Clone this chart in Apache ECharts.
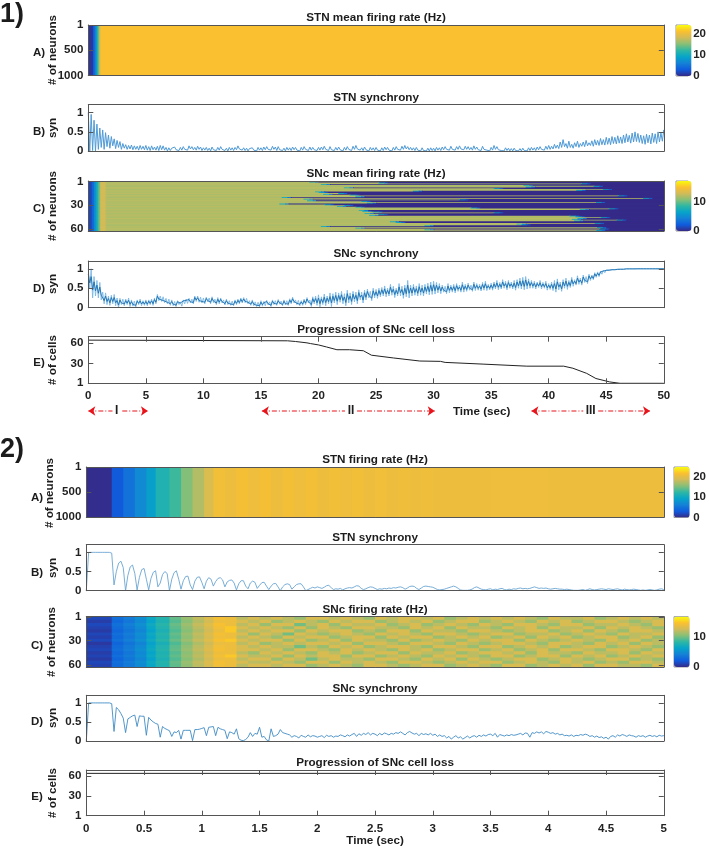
<!DOCTYPE html>
<html>
<head>
<meta charset="utf-8">
<title>STN and SNc activity</title>
<script src="https://cdn.jsdelivr.net/npm/echarts@6/dist/echarts.min.js"></script>
<style>
  body { margin: 0; background: #fff; }
  #main { width: 709px; height: 850px; }
</style>
</head>
<body>
<div id="main"></div>
<script>
// ---- data ----
var neuronTicks = [1, 500, 1000]
var sncRowTicks = [1, 30, 60]
var synTicks = [0, 0.5, 1]
var cellTicks = [1, 30, 60]

// part 1, panel A: all neurons ramp together in the first second
var stn1Edges = [0, 0.4, 0.55, 0.7, 0.8, 0.9, 1, 1.1, 50]
var stn1Rates = [0.6, 3, 6, 10, 13, 17, 20, 21.35]

// part 1, panel B: upper / lower edge of the oscillating trace, every 0.25 s
var syn1bHi = [1,.95,.8,.7,.6,.55,.48,.42,.38,.32,.28,.25,.2,.17,.15,.16,.14,.13,.15,.13,
  .15,.12,.14,.11,.13,.15,.14,.1,.09,.08,.11,.09,.1,.12,.1,.14,.12,.1,.13,.11,
  .09,.1,.08,.11,.09,.1,.12,.09,.08,.1,.09,.1,.14,.11,.09,.08,.07,.09,.08,.1,
  .09,.11,.12,.1,.13,.11,.12,.09,.08,.1,.09,.11,.1,.08,.1,.12,.09,.11,.1,.09,
  .1,.11,.13,.1,.12,.09,.1,.11,.08,.1,.12,.09,.13,.15,.1,.09,.11,.08,.1,.09,
  .1,.08,.09,.11,.1,.08,.1,.12,.1,.13,.15,.12,.1,.09,.1,.08,.09,.07,.08,.09,
  .08,.1,.09,.11,.12,.1,.13,.1,.12,.14,.11,.13,.12,.1,.14,.11,.09,.13,.1,.08,
  .1,.15,.12,.09,.07,.09,.08,.07,.08,.06,.07,.08,.07,.09,.1,.09,.11,.12,.1,.13,
  .15,.13,.18,.16,.24,.3,.2,.26,.18,.22,.26,.2,.24,.28,.22,.27,.3,.28,.33,.3,
  .36,.34,.38,.36,.4,.37,.42,.45,.41,.47,.5,.46,.42,.4,.44,.42,.47,.45,.5,.47,.55]
var syn1bLo = [0,.02,0,.05,.1,.05,.12,.08,.14,.07,.1,.05,.08,.05,.06,.04,.05,.03,.05,.04,
  .03,.02,.04,.03,.02,.04,.03,.01,.02,.03,.04,.02,.03,.05,.03,.06,.04,.03,.05,.02,
  .03,.02,.01,.04,.02,.03,.05,.02,.01,.03,.02,.04,.06,.03,.02,.01,.02,.03,.01,.03,
  .02,.04,.05,.03,.05,.02,.04,.02,.01,.03,.02,.04,.03,.01,.03,.05,.02,.03,.04,.02,
  .03,.04,.05,.02,.04,.02,.03,.04,.01,.03,.05,.02,.05,.06,.03,.02,.04,.01,.03,.02,
  .03,.01,.02,.04,.03,.01,.03,.05,.03,.05,.06,.04,.03,.02,.03,.01,.02,.01,.01,.02,
  .01,.03,.02,.04,.05,.03,.05,.03,.05,.06,.04,.05,.04,.03,.05,.04,.02,.05,.03,.01,
  .03,.05,.04,.02,.01,.02,.01,.01,.02,.01,.01,.02,.01,.02,.03,.02,.04,.05,.03,.05,
  .05,.06,.08,.07,.1,.12,.08,.1,.08,.12,.1,.13,.12,.14,.15,.13,.16,.15,.17,.16,
  .18,.17,.2,.19,.21,.2,.22,.24,.21,.24,.25,.23,.2,.18,.22,.19,.23,.2,.24,.26,.3]

// part 1, panel C: colour ramp, per-row plateau rate, and the time each cell dies (s)
var snc1RampEdges = [0, 0.3, 0.5, 0.7, 0.85, 1, 1.5]
var snc1RampRates = [1.2, 3, 5.5, 8, 10, 13]
var snc1Plateau = [12,11.7,12.3,11.8,12.2,12,11.6,12.3,11.9,12.2,11.7,12.1,12.3,11.8,12,12.2,11.7,12.1,
  12.3,11.9,11.7,12.2,12,11.8,12.3,11.9,12.1,11.7,12.2,12,11.8,12.3,12.1,11.7,12,12.2,11.8,12.1,11.9,12.3,
  11.7,12,12.2,11.9,12.1,11.8,12.3,12,11.7,12.2,11.9,12.1,12.3,11.8,12,11.7,12.2,11.9,12.1,12.3,11.8,12]
var snc1Death = [27,20,26,43.6,21,38.6,44.7,38.8,23,36,45.5,43.2,29,20.5,20.8,22.5,21.2,23.5,46.8,24,17.6,49,
  19.5,33,19.8,24.5,44.9,25,17.4,21.3,23,22.4,24,34,46,43.5,24.3,24.6,25.5,36,24.8,26,25.2,42.6,43.1,45.3,
  43.3,42.8,46.7,43,27,27.5,44.8,38,38.4,30,21,45,24,45.2,30,44.9]

// part 1, panel D: upper / lower edge every 0.25 s
var syn1dHi = [1,1,.8,.7,.65,.4,.38,.3,.32,.34,.25,.24,.22,.22,.25,.2,.17,.2,.22,.18,
  .2,.2,.22,.25,.34,.3,.28,.24,.22,.2,.16,.18,.15,.2,.22,.24,.22,.3,.3,.27,
  .25,.27,.25,.28,.22,.26,.25,.2,.22,.18,.17,.2,.22,.25,.26,.24,.18,.2,.15,.14,
  .18,.16,.19,.15,.2,.18,.21,.17,.2,.18,.23,.27,.2,.19,.18,.22,.26,.2,.28,.3,
  .33,.28,.35,.3,.38,.36,.4,.38,.42,.36,.45,.38,.42,.4,.46,.4,.45,.48,.42,.5,
  .47,.5,.52,.56,.5,.6,.55,.5,.62,.55,.58,.7,.58,.6,.56,.62,.58,.6,.63,.66,
  .68,.65,.62,.58,.55,.62,.58,.6,.62,.58,.66,.6,.63,.58,.66,.62,.6,.65,.68,.6,
  .63,.66,.7,.65,.72,.68,.7,.66,.7,.72,.76,.78,.8,.74,.7,.68,.66,.7,.65,.68,
  .62,.66,.7,.74,.66,.72,.76,.7,.78,.72,.82,.76,.84,.8,.86,.84,.9,.92,.94,.96,
  .97,.97,.98,.98,.99,.99,.99,1,1,1,1,1,1,1,1,1,1,1,1,1,1]
var syn1dLo = [.5,.25,.3,.25,.2,.1,.08,.06,.1,.05,0,.08,.05,.08,.03,.04,.02,.08,.05,.06,
  .05,.08,.06,.1,.18,.16,.13,.1,.06,.05,.03,.08,.04,.1,.11,.12,.1,.16,.14,.12,
  .1,.15,.1,.13,.08,.1,.12,.07,.08,.06,.05,.08,.1,.12,.13,.1,.06,.05,.03,.02,
  .04,.05,.07,.03,.08,.06,.09,.05,.07,.06,.1,.12,.08,.05,.06,.08,.12,.03,.1,.06,
  .02,.08,.05,.1,.03,.12,.08,.14,.1,.05,.12,.08,.15,.1,.2,.12,.2,.25,.18,.25,
  .24,.28,.3,.28,.3,.32,.26,.3,.3,.24,.28,.25,.3,.32,.3,.32,.3,.35,.33,.34,
  .35,.38,.36,.4,.36,.38,.4,.38,.42,.4,.4,.42,.45,.42,.44,.45,.43,.45,.44,.46,
  .45,.48,.46,.48,.5,.46,.5,.48,.45,.5,.48,.46,.48,.5,.5,.48,.52,.48,.5,.45,
  .47,.44,.4,.46,.42,.5,.47,.52,.55,.58,.6,.58,.65,.62,.7,.72,.78,.8,.86,.9,
  .93,.94,.96,.96,.97,.98,.98,.99,.99,.99,.99,1,1,1,1,1,1,1,1,1,1]

// part 1, panel E: surviving cells
var cells1Times = [0,17.3,18,19,19.3,20,20.7,21.6,22.7,23.9,24.6,26.5,28.8,30.6,31,34.3,38.1,41.3,42.1,43.3,44.1,45.3,46.2,50]
var cells1Count = [64,63,62,60,59,57,54,50,50,48.5,42,38,33.5,33,31.5,29,26,26,23,15.5,8,3,1,1]

// arrows under part 1 (s)
var arrowsLeft = [[0, 2.1], [15.08, 22.3], [38.5, 43]]
var arrowsRight = [[2.95, 5.18], [23.35, 30.1], [44.3, 48.8]]

// part 2, panel A
var stn2Edges = [0,.22,.32,.42,.52,.6,.72,.82,.92,1.02,1.1,1.2,1.3,1.4,1.5,1.6,1.7,1.8,1.9,2,2.1,2.2,2.3,2.4,2.5,2.6,2.7,2.8,2.9,3,3.5,4,5]
var stn2Rates = [.2,3,5,7,9,11.5,13,15.5,17.5,19.5,21.2,20.8,21.4,20.9,21.4,20.8,21.3,20.9,21.3,20.8,21.2,20.9,21.2,20.8,21.1,20.8,21,20.8,21,20.8,20.9,20.8]

// part 2, panel B, every 0.02 s
var syn2b = [0,1,1,1,1,1,1,1,1,1,1,.98,.15,.5,.72,.77,.6,0,.4,.62,.67,.45,.02,.35,.55,.58,.3,.02,.32,.48,
  .52,.1,.2,.42,.5,.45,0,.3,.47,.52,.3,.04,.26,.37,.38,.15,.03,.25,.35,.36,.22,.05,.25,.34,.3,.12,.24,.32,.34,.28,
  .1,.23,.27,.28,.2,.02,.18,.26,.26,.12,.05,.2,.25,.22,.06,.14,.21,.22,.12,.03,.12,.18,.19,.1,0,.1,.16,.18,.16,.04,
  .1,.16,.18,.18,.1,0,.03,.06,.09,.07,.1,.08,.06,.09,.13,.14,.08,.03,.05,.04,.06,.02,.05,.07,.08,.07,.1,.13,.12,.06,
  .03,.05,.08,.1,.09,.06,.03,.05,.04,.06,.05,.07,.06,.08,.07,.09,.1,.08,.04,.07,.11,.12,.11,.06,.03,.07,.11,.12,.11,.1,
  .09,.06,.03,.02,.03,.04,.06,.08,.1,.12,.1,.06,.02,.01,.01,.01,.02,.04,.08,.1,.07,.04,.03,.02,.04,.05,.02,.04,.03,.05,
  .06,.03,.02,.04,.03,.05,.04,.06,.07,.05,.06,.05,.06,.08,.1,.08,.06,.07,.06,.07,.05,.04,.05,.06,.05,.04,.04,.03,.04,.03,
  .02,.01,.01,.01,.02,.03,.01,.03,.05,.03,.02,.03,.04,.05,.04,.03,.05,.04,.03,.04,.05,.03,.02,.04,.03,.02,.03,.04,.03,.02,
  .01,.02,.01,.02,.03,.02,.01,.02,.04,.05,.03]

// part 2, panel C: ramp columns, then 0.1 s patches per block of rows
var snc2RampEdges = [0,.22,.32,.42,.52,.6,.72,.82,.92,1.02,1.1,1.2]
var snc2RampRates = [1,3,3.8,4.8,6.5,7.8,9.5,10.8,12,13,14.2]
var snc2RowShift = [.2,-.2,.3,0,-.3,.2,-.1,.3,-.4,0,.2,-.2,.1,-.3,.2,0]
var snc2Patches = [
  [14,12,13,12,13,12,11,13,13,12,13,12,11,13,12,13,13,12,13,11,12,13,12,13,12,13,12,11,13,12,12,13,11,12,13,12,13,12],
  [14,13,12,13,11,12,13,12,11,13,12,13,13,11,12,13,12,13,11,12,13,13,11,12,13,12,11,13,12,13,11,12,13,13,12,11,12,13],
  [14,12,13,11,13,13,10,12,13,11,13,12,12,13,11,12,13,11,12,13,12,11,13,12,11,13,13,12,11,13,13,11,12,12,13,12,11,13],
  [15,13,12,13,12,11,13,11,13,12,11,13,13,12,12,11,13,12,13,11,13,12,12,11,13,12,13,11,13,12,12,13,11,13,12,13,12,11],
  [15,12,13,12,13,13,11,13,12,13,13,11,12,11,13,13,11,13,12,12,11,13,13,12,11,12,13,13,11,12,13,11,13,12,11,13,13,12],
  [14,13,11,13,12,10,13,12,11,12,13,12,11,13,12,13,12,11,13,13,12,11,12,13,13,11,12,12,13,11,12,13,12,11,13,12,12,13],
  [14,12,13,12,11,13,12,13,13,11,12,13,13,11,13,12,13,13,11,12,13,12,13,11,12,13,11,13,12,13,11,12,13,13,11,12,13,11],
  [15,13,12,13,13,11,13,11,12,13,11,13,12,12,11,13,11,12,13,12,11,13,12,13,13,11,13,12,11,12,13,12,11,13,12,13,11,12],
  [14,12,13,11,12,13,12,13,13,12,13,11,13,13,12,11,13,13,12,11,13,12,11,12,13,13,12,11,13,13,12,11,13,12,13,11,13,12],
  [14,13,12,13,12,12,10,12,11,13,12,13,11,12,13,13,12,11,13,13,12,11,13,13,11,12,13,12,13,11,12,13,13,11,12,13,12,11],
  [14,13,13,12,13,11,13,13,12,11,13,12,13,12,11,13,12,13,11,12,13,13,11,12,13,11,12,13,11,13,13,12,11,13,13,12,11,13],
  [14,12,11,13,12,13,12,11,13,12,13,11,12,13,13,11,13,12,12,13,11,12,13,13,12,13,11,13,12,12,11,13,12,12,13,11,13,12],
  [15,13,12,12,13,11,13,12,13,13,11,13,13,11,12,13,12,11,13,12,13,12,11,13,13,11,12,13,13,11,13,12,13,11,12,13,12,13],
  [14,12,13,13,11,13,12,10,12,13,12,12,11,13,13,12,11,13,12,13,11,13,12,11,12,13,13,11,12,13,12,11,12,13,13,11,12,11],
  [14,13,12,12,13,12,11,13,13,11,13,12,13,12,11,13,13,12,11,12,13,12,13,13,11,12,13,12,11,13,12,13,11,12,11,13,13,12],
  [14,12,13,13,12,13,13,11,12,13,12,11,13,13,12,11,12,13,13,11,12,13,12,11,13,13,11,12,13,12,13,11,13,13,12,12,11,13]
]

// part 2, panel D, every 0.02 s
var syn2d = [0,1,1,1,1,1,1,1,1,1,1,.98,.25,.88,.82,.72,.6,.22,.58,.62,.66,.68,.38,.66,.65,.65,.15,.62,.55,.5,
  .46,.44,.1,.38,.33,.3,.27,.12,.24,.22,.28,.05,.28,.28,.28,.28,.01,.3,.3,.31,.33,.35,.14,.36,.37,.38,.14,.36,.32,.3,
  .28,.06,.24,.22,.18,.32,.06,.02,.01,.04,.1,.22,.12,.2,.18,.36,.1,.12,.03,0,.32,.12,.14,.18,.3,.22,.2,.18,.16,.1,
  .14,.12,.08,.15,.12,.1,.16,.11,.14,.13,.1,.12,.14,.09,.15,.12,.14,.1,.13,.12,.16,.14,.11,.16,.13,.17,.2,.12,.19,.15,
  .2,.17,.22,.16,.2,.18,.14,.2,.16,.21,.19,.16,.2,.18,.22,.2,.24,.2,.16,.22,.25,.21,.18,.2,.14,.2,.17,.19,.16,.2,
  .15,.18,.12,.16,.12,.14,.08,.12,.05,.1,.14,.08,.11,.05,.09,.13,.08,.12,.14,.1,.15,.12,.16,.13,.17,.18,.14,.2,.1,.17,
  .15,.13,.16,.14,.17,.15,.16,.18,.2,.16,.21,.2,.1,.22,.2,.24,.21,.24,.19,.25,.23,.2,.22,.18,.2,.16,.18,.14,.15,.13,
  .16,.12,.15,.14,.17,.15,.18,.16,.12,.14,.1,.13,.09,.11,.07,.1,.05,.12,.14,.1,.16,.13,.17,.15,.12,.16,.14,.13,.1,.14,.12,
  .14,.1,.13,.15,.12,.14,.11,.15,.13,.14,.12]

// part 2, panel E: no cell is lost
var cells2Times = [0, 5]
var cells2Count = [64, 64]

var parula = ['#352A87','#0F5CDD','#1481D6','#06A4CA','#2EB7A4','#87BF77','#D1BB59','#FBC02F','#F9FB0E']

// ---- layout helpers ----
var fontFamily = '"Liberation Sans", Arial, sans-serif'
var axisColor = '#555'
var labelStyle = {
  color: '#222', fontFamily: fontFamily, fontWeight: 'bold', fontSize: 11.5,
  formatter: function (v) { return String(v) }
}

var grids = [], xAxes = [], yAxes = [], seriesList = [], visualMaps = [], texts = []

function addText(text, x, y, size, rotation) {
  texts.push({
    type: 'text', x: x, y: y, rotation: rotation || 0, silent: true,
    style: {
      text: text, fill: '#1c1c1c', align: 'center', verticalAlign: 'middle',
      font: 'bold ' + size + 'px ' + fontFamily
    }
  })
}

// one boxed MATLAB-style panel: four axis lines, ticks pointing inward
function addPanel(p) {
  var idx = grids.length
  grids.push({ left: p.x, top: p.y, width: p.w, height: p.h })
  function xa(position, labels) {
    return {
      gridIndex: idx, type: 'value', position: position, min: 0, max: p.tMax, z: 4,
      interval: p.xStep || p.tMax,
      axisLine: { show: true, onZero: false, lineStyle: { color: axisColor, width: 1 } },
      axisTick: { show: !!p.xStep, inside: true, length: 5, lineStyle: { color: axisColor } },
      axisLabel: Object.assign({ show: labels, margin: 7 }, labelStyle),
      splitLine: { show: false }
    }
  }
  function ya(position, labels) {
    return {
      gridIndex: idx, type: 'value', position: position, min: p.yMin, max: p.yMax, inverse: !!p.inverse, z: 4,
      axisLine: { show: true, onZero: false, lineStyle: { color: axisColor, width: 1 } },
      axisTick: { show: true, inside: true, length: 5, customValues: p.yTicks, lineStyle: { color: axisColor } },
      axisLabel: Object.assign({ show: labels, margin: 5, customValues: p.yTicks }, labelStyle),
      splitLine: { show: false }
    }
  }
  xAxes.push(xa('bottom', !!p.xStep), xa('top', false))
  yAxes.push(ya('left', true), ya('right', false))
  addText(p.title, p.x + p.w / 2, p.titleY, 11.7)
  addText(p.letter, p.letterX, p.letterY, 11.5)
  addText(p.yName, p.nameX, p.nameY, 11.7, Math.PI / 2)
  return idx
}

function renderCell(params, api) {
  var a = api.coord([api.value(0), api.value(2)])
  var b = api.coord([api.value(1), api.value(3)])
  // one pixel overlap, the next cell paints over it so no seams show
  return {
    type: 'rect', silent: true,
    shape: { x: a[0], y: a[1], width: b[0] - a[0] + 1, height: b[1] - a[1] + 1 },
    style: { fill: api.visual('color') }
  }
}

function addHeat(gridIdx, cells, cbar) {
  seriesList.push({
    type: 'custom', xAxisIndex: gridIdx * 2, yAxisIndex: gridIdx * 2, renderItem: renderCell,
    data: cells, encode: { x: [0, 1], y: [2, 3] }, clip: true, animation: false, silent: true
  })
  visualMaps.push({
    type: 'continuous', seriesIndex: seriesList.length - 1, dimension: 4,
    min: 0, max: cbar.max, calculable: false, hoverLink: false,
    left: cbar.x, top: cbar.y, itemWidth: cbar.w, itemHeight: cbar.h, padding: 0,
    inRange: { color: parula }
  })
  // colour bar tick labels
  grids.push({ left: cbar.x, top: cbar.y, width: cbar.w, height: cbar.h, show: true, borderColor: '#999', borderWidth: 1 })
  xAxes.push({ gridIndex: grids.length - 1, type: 'value', show: false, min: 0, max: 1 }, { gridIndex: grids.length - 1, type: 'value', show: false, min: 0, max: 1 })
  yAxes.push({
    gridIndex: grids.length - 1, type: 'value', position: 'right', min: 0, max: cbar.max,
    axisLine: { show: false }, axisTick: { show: false },
    axisLabel: Object.assign({ margin: 5, customValues: cbar.ticks }, labelStyle),
    splitLine: { show: false }
  }, { gridIndex: grids.length - 1, type: 'value', show: false, min: 0, max: 1 })
}

function addLine(gridIdx, data, color, width) {
  seriesList.push({
    type: 'line', xAxisIndex: gridIdx * 2, yAxisIndex: gridIdx * 2, data: data, showSymbol: false,
    symbol: 'none', sampling: false, animation: false, silent: true, clip: true,
    lineStyle: { color: color, width: width }
  })
}

// ---- building the marks from the arrays ----
function columnCells(edges, rates, r0, r1) {
  return rates.map(function (v, i) { return [edges[i], edges[i + 1], r0, r1, v] })
}

// alternate between the two edges; squeeze pulls the swing toward the trace's centre
function zigzag(hi, lo, dt, squeeze) {
  var out = []
  for (var i = 0; i < hi.length; i++) {
    var inset = (hi[i] - lo[i]) * squeeze
    out.push([i * dt, hi[i] - inset])
    out.push([(i + 0.5) * dt, lo[i] + inset])
  }
  return out
}

function evenTrace(values, dt) {
  return values.map(function (v, i) { return [i * dt, v] })
}

function snc1Cells() {
  var cells = []
  snc1Death.forEach(function (d, r) {
    cells = cells.concat(columnCells(snc1RampEdges, snc1RampRates, r + 0.5, r + 1.5))
    cells.push([1.5, d - 0.8, r + 0.5, r + 1.5, snc1Plateau[r]])
    cells.push([d - 0.8, d - 0.3, r + 0.5, r + 1.5, 7])
    cells.push([d - 0.3, d, r + 0.5, r + 1.5, 3])
    cells.push([d, 50, r + 0.5, r + 1.5, 0])
  })
  return cells
}

function snc2Cells() {
  var cells = []
  var bandRows = 62 / snc2Patches.length
  snc2Patches.forEach(function (row, b) {
    var r0 = 0.5 + b * bandRows, r1 = r0 + bandRows
    snc2RampRates.forEach(function (v, i) {
      cells.push([snc2RampEdges[i], snc2RampEdges[i + 1], r0, r1, v + snc2RowShift[b]])
    })
    row.forEach(function (v, i) {
      cells.push([1.2 + i * 0.1, 1.3 + i * 0.1, r0, r1, v])
    })
  })
  return cells
}

// ---- part 1 ----
var part1 = { x: 88.3, w: 575.5, tMax: 50, letterX: 39 }
var part2 = { x: 86.3, w: 577.5, tMax: 5, letterX: 37 }

var g, order = []
g = addPanel(Object.assign({}, part1, { y: 25, h: 50.5, yMin: 1, yMax: 1000, inverse: true, yTicks: neuronTicks, yName: '# of neurons', nameX: 52.3, nameY: 50, title: 'STN mean firing rate (Hz)', titleY: 18, letter: 'A)', letterY: 53 }))
order.push({ g: g, cells: columnCells(stn1Edges, stn1Rates, 1, 1000), cbar: { x: 676, y: 25, w: 15.5, h: 51, max: 24.4, ticks: [0, 10, 20] } })
var g1b = addPanel(Object.assign({}, part1, { y: 104.7, h: 46.6, yMin: 0, yMax: 1.2, yTicks: synTicks, yName: 'syn', nameX: 52.5, nameY: 128, title: 'STN synchrony', titleY: 98, letter: 'B)', letterY: 132 }))
g = addPanel(Object.assign({}, part1, { y: 181, h: 50, yMin: 0.5, yMax: 62.5, inverse: true, yTicks: sncRowTicks, yName: '# of neurons', nameX: 52.3, nameY: 206, title: 'SNc mean firing rate (Hz)', titleY: 174, letter: 'C)', letterY: 209.3 }))
order.push({ g: g, cells: snc1Cells(), cbar: { x: 676, y: 181, w: 15.5, h: 50, max: 17.2, ticks: [0, 10] } })
var g1d = addPanel(Object.assign({}, part1, { y: 261, h: 46.7, yMin: 0, yMax: 1.2, yTicks: synTicks, yName: 'syn', nameX: 53, nameY: 284, title: 'SNc synchrony', titleY: 254, letter: 'D)', letterY: 289 }))
var g1e = addPanel(Object.assign({}, part1, { y: 336.7, h: 46.6, yMin: 1, yMax: 69, yTicks: cellTicks, xStep: 5, yName: '# of cells', nameX: 53, nameY: 360, title: 'Progression of SNc cell loss', titleY: 330, letter: 'E)', letterY: 363 }))

// ---- part 2 ----
g = addPanel(Object.assign({}, part2, { y: 467, h: 50.3, yMin: 1, yMax: 1000, inverse: true, yTicks: neuronTicks, yName: '# of neurons', nameX: 50, nameY: 493, title: 'STN firing rate (Hz)', titleY: 460, letter: 'A)', letterY: 497.7 }))
order.push({ g: g, cells: columnCells(stn2Edges, stn2Rates, 1, 1000), cbar: { x: 674, y: 467, w: 15.7, h: 50.5, max: 25, ticks: [0, 10, 20] } })
var g2b = addPanel(Object.assign({}, part2, { y: 544.7, h: 46, yMin: 0, yMax: 1.2, yTicks: synTicks, yName: 'syn', nameX: 52.7, nameY: 568, title: 'STN synchrony', titleY: 537.7, letter: 'B)', letterY: 572.7 }))
g = addPanel(Object.assign({}, part2, { y: 616.7, h: 50.3, yMin: 0.5, yMax: 62.5, inverse: true, yTicks: sncRowTicks, yName: '# of neurons', nameX: 52, nameY: 642, title: 'SNc firing rate (Hz)', titleY: 610, letter: 'C)', letterY: 646 }))
order.push({ g: g, cells: snc2Cells(), cbar: { x: 674, y: 616.7, w: 15.7, h: 50.3, max: 16.8, ticks: [0, 10] } })
var g2d = addPanel(Object.assign({}, part2, { y: 695.3, h: 45.7, yMin: 0, yMax: 1.2, yTicks: synTicks, yName: 'syn', nameX: 52.7, nameY: 718, title: 'SNc synchrony', titleY: 688.7, letter: 'D)', letterY: 721.7 }))
var g2e = addPanel(Object.assign({}, part2, { y: 770, h: 45.7, yMin: 1, yMax: 69, yTicks: cellTicks, xStep: 0.5, yName: '# of cells', nameX: 52.7, nameY: 793, title: 'Progression of SNc cell loss', titleY: 763, letter: 'E)', letterY: 796.7 }))

// the panel grids come first so each uses xAxisIndex = 2 * grid index; colour bars follow
order.forEach(function (o) { addHeat(o.g, o.cells, o.cbar) })

addLine(g1b, zigzag(syn1bHi, syn1bLo, 0.25, 0), '#4f9ad6', 1)
addLine(g1d, zigzag(syn1dHi, syn1dLo, 0.25, 0), '#7ab8e6', 0.9)
addLine(g1d, zigzag(syn1dHi, syn1dLo, 0.25, 0.27), '#1c70b0', 0.9)
addLine(g1e, cells1Times.map(function (t, i) { return [t, cells1Count[i]] }), '#222', 1)
addLine(g2b, evenTrace(syn2b, 0.02), '#6aa5d2', 0.9)
addLine(g2d, evenTrace(syn2d, 0.02), '#3f8bc4', 0.9)
addLine(g2e, cells2Times.map(function (t, i) { return [t, cells2Count[i]] }), '#222', 1)

// red period arrows, placed on their own hidden time axis under part 1
grids.push({ left: part1.x, top: 406, width: part1.w, height: 10 })
xAxes.push({ gridIndex: grids.length - 1, type: 'value', show: false, min: 0, max: 50 }, { gridIndex: grids.length - 1, type: 'value', show: false, min: 0, max: 50 })
yAxes.push({ gridIndex: grids.length - 1, type: 'value', show: false, min: -1, max: 1 }, { gridIndex: grids.length - 1, type: 'value', show: false, min: -1, max: 1 })
var arrowAxis = xAxes.length - 2
var arrowRed = '#e8141c'
arrowsLeft.concat(arrowsRight).forEach(function (a) {
  seriesList.push({
    type: 'line', xAxisIndex: arrowAxis, yAxisIndex: arrowAxis, data: [[a[0], 0], [a[1], 0]], symbol: 'none',
    animation: false, silent: true, clip: false,
    lineStyle: { color: arrowRed, width: 1.2, type: [5, 2, 1, 2] }
  })
})
// arrow heads only: the shafts above are the dash-dot lines
var headData = []
arrowsLeft.forEach(function (a) { headData.push([{ coord: [a[0], 0], symbol: 'arrow' }, { coord: [a[1], 0], symbol: 'none' }]) })
arrowsRight.forEach(function (a) { headData.push([{ coord: [a[0], 0], symbol: 'none' }, { coord: [a[1], 0], symbol: 'arrow' }]) })
seriesList.push({
  type: 'line', xAxisIndex: arrowAxis, yAxisIndex: arrowAxis, data: [[0, 0]], symbol: 'none',
  lineStyle: { width: 0 }, animation: false, silent: true,
  markLine: {
    silent: true, animation: false, symbolSize: 7, label: { show: false },
    itemStyle: { color: arrowRed },
    lineStyle: { color: arrowRed, width: 0, opacity: 1 },
    data: headData
  }
})

// ---- free text ----
addText('1)', 12, 15, 27)
addText('2)', 12, 450, 27)
addText('I', 116.7, 411, 12)
addText('II', 351, 411, 12)
addText('III', 590.7, 411, 12)
addText('Time (sec)', 481.7, 411.5, 11.7)
addText('Time (sec)', 375, 841, 11.7)

var chart = echarts.init(document.getElementById('main'))
chart.setOption({
  backgroundColor: '#fff',
  animation: false,
  tooltip: { show: false },
  grid: grids,
  xAxis: xAxes,
  yAxis: yAxes,
  visualMap: visualMaps,
  series: seriesList,
  graphic: { elements: texts }
})
</script>
</body>
</html>
